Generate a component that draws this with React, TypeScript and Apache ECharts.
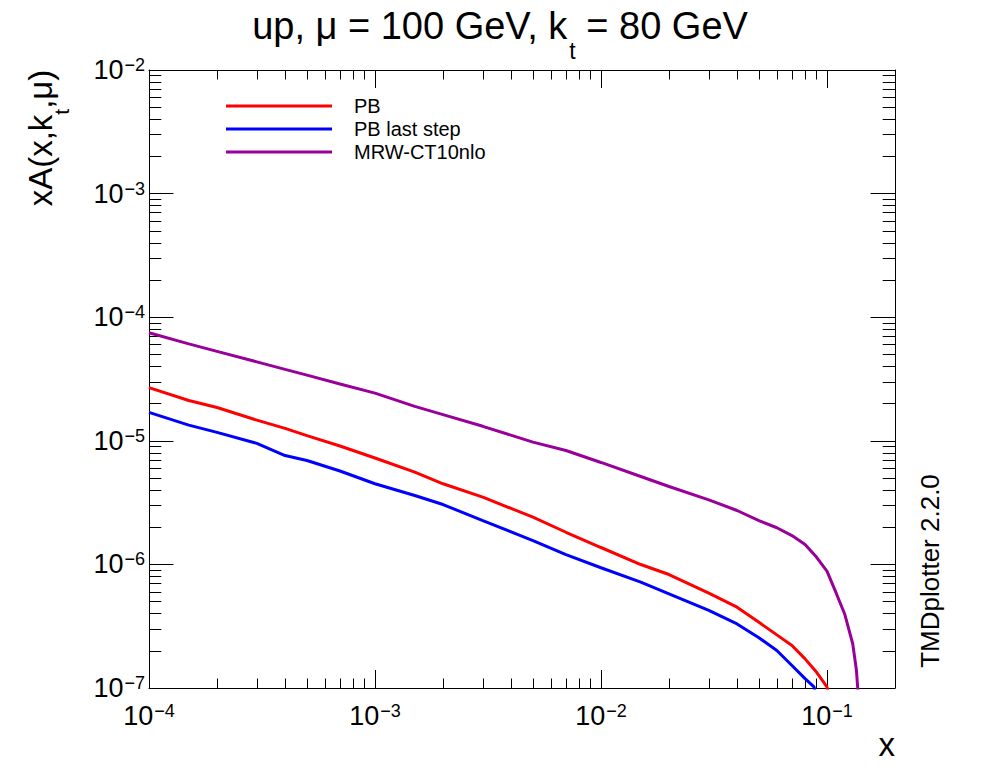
import React, { useEffect, useRef } from "react";
import * as echarts from "echarts";

// ---- data ----
const pbX = [1e-4, 1.5e-4, 2e-4, 3e-4, 4e-4, 5e-4, 7e-4, 1e-3, 1.5e-3, 2e-3, 3e-3, 5e-3, 7e-3, 1e-2, 1.5e-2, 2e-2, 3e-2, 4e-2, 5e-2, 6e-2, 7e-2, 8e-2, 9e-2, 0.1, 0.102];
const pbY = [2.69e-5, 2.12e-5, 1.86e-5, 1.47e-5, 1.26e-5, 1.1e-5, 9.08e-6, 7.26e-6, 5.57e-6, 4.49e-6, 3.5e-6, 2.41e-6, 1.82e-6, 1.37e-6, 9.98e-7, 8.28e-7, 5.85e-7, 4.51e-7, 3.4e-7, 2.69e-7, 2.21e-7, 1.72e-7, 1.34e-7, 1.02e-7, 8.5e-8];

const lastX = [1e-4, 1.5e-4, 2e-4, 3e-4, 4e-4, 5e-4, 7e-4, 1e-3, 1.5e-3, 2e-3, 3e-3, 5e-3, 7e-3, 1e-2, 1.5e-2, 2e-2, 3e-2, 4e-2, 5e-2, 6e-2, 7e-2, 8e-2, 0.0876, 0.09];
const lastY = [1.7e-5, 1.34e-5, 1.17e-5, 9.54e-6, 7.6e-6, 6.93e-6, 5.7e-6, 4.49e-6, 3.61e-6, 3.05e-6, 2.26e-6, 1.56e-6, 1.2e-6, 9.39e-7, 7.18e-7, 5.78e-7, 4.24e-7, 3.3e-7, 2.55e-7, 2.01e-7, 1.52e-7, 1.19e-7, 1.02e-7, 8.5e-8];

const mrwX = [1e-4, 1.5e-4, 2e-4, 3e-4, 4e-4, 5e-4, 7e-4, 1e-3, 1.5e-3, 2e-3, 3e-3, 5e-3, 7e-3, 1e-2, 1.5e-2, 2e-2, 3e-2, 4e-2, 5e-2, 6e-2, 7e-2, 8e-2, 9e-2, 0.1, 0.11, 0.12, 0.13, 0.135, 0.138];
const mrwY = [7.48e-5, 6.08e-5, 5.29e-5, 4.35e-5, 3.78e-5, 3.4e-5, 2.88e-5, 2.43e-5, 1.9e-5, 1.63e-5, 1.31e-5, 9.75e-6, 8.35e-6, 6.68e-6, 5.14e-6, 4.27e-6, 3.33e-6, 2.73e-6, 2.26e-6, 1.98e-6, 1.71e-6, 1.45e-6, 1.14e-6, 8.81e-7, 5.82e-7, 3.93e-7, 2.28e-7, 1.39e-7, 8e-8];

const seriesNames = ["PB", "PB last step", "MRW-CT10nlo"];
const seriesColors = ["#ff0000", "#0000ff", "#990099"];

// ---- axis structure ----
const xMin = 1e-4;
const xMax = 0.2;
const yMin = 1e-7;
const yMax = 1e-2;
const xMajor = [1e-4, 1e-3, 1e-2, 1e-1];
const yMajor = [1e-7, 1e-6, 1e-5, 1e-4, 1e-3, 1e-2];
const tickMultiples = [2, 3, 4, 5, 6, 7, 8, 9];

const titleMain1 = "up, μ = 100 GeV, k";
const titleSub = "t";
const titleMain2 = " = 80 GeV";
const yName1 = "xA(x,k";
const yNameSub = "t";
const yName2 = ",μ)";
const xName = "x";
const stamp = "TMDplotter 2.2.0";

const FONT = '"Liberation Sans", Arial, Helvetica, sans-serif';

function minorOf(decades: number[], max: number) {
  const out: number[] = [];
  decades.forEach((d) =>
    tickMultiples.forEach((m) => {
      const v = m * d;
      if (v <= max * 1.0000001) out.push(v);
    })
  );
  return out;
}

const xMinor = minorOf(xMajor, xMax);
const yMinor = minorOf(yMajor.slice(0, -1), yMax);

function powLabel(v: number) {
  const e = Math.round(Math.log10(v));
  return `{b|10}{s|${e < 0 ? "\u2212" : ""}${Math.abs(e)}}`;
}

const labelRich = {
  b: { fontSize: 27, lineHeight: 28, color: "#000", fontFamily: FONT },
  s: { fontSize: 18, lineHeight: 18, color: "#000", fontFamily: FONT, verticalAlign: "top" as const, padding: [0, 0, 0, 1] },
};

export default function App() {
  const ref = useRef<HTMLDivElement>(null);

  useEffect(() => {
    if (!ref.current) return;
    const chart = echarts.init(ref.current, undefined, { renderer: "svg" });

    const tickLine = { color: "#000", width: 1 };
    const mkX = (position: "top" | "bottom", major: boolean, labels: boolean) => ({
      type: "log" as const,
      logBase: 10,
      min: xMin,
      max: xMax,
      position,
      splitLine: { show: false },
      minorTick: { show: false },
      axisLine: { show: major, onZero: false, lineStyle: tickLine },
      axisTick: {
        show: true,
        inside: true,
        length: major ? 18 : 9.5,
        customValues: major ? xMajor : xMinor,
        lineStyle: tickLine,
      },
      axisLabel: labels
        ? {
            show: true,
            customValues: xMajor,
            formatter: (v: number) => powLabel(v),
            rich: labelRich,
            margin: 14,
            color: "#000",
          }
        : { show: false },
    });
    const mkY = (position: "left" | "right", major: boolean, labels: boolean) => ({
      type: "log" as const,
      logBase: 10,
      min: yMin,
      max: yMax,
      position,
      splitLine: { show: false },
      minorTick: { show: false },
      axisLine: { show: major, onZero: false, lineStyle: tickLine },
      axisTick: {
        show: true,
        inside: true,
        length: major ? 24.5 : 12.3,
        customValues: major ? yMajor : yMinor,
        lineStyle: tickLine,
      },
      axisLabel: labels
        ? {
            show: true,
            customValues: yMajor,
            formatter: (v: number) => powLabel(v),
            rich: labelRich,
            margin: 4,
            color: "#000",
          }
        : { show: false },
    });

    const mk = (xs: number[], ys: number[]) => xs.map((x, i) => [x, ys[i]]);
    const dataSets = [mk(pbX, pbY), mk(lastX, lastY), mk(mrwX, mrwY)];

    chart.setOption({
      animation: false,
      textStyle: { fontFamily: FONT },
      grid: { left: 149, right: 101, top: 70, bottom: 84, outerBoundsMode: "none" },
      xAxis: [mkX("bottom", true, true), mkX("bottom", false, false), mkX("top", true, false), mkX("top", false, false)],
      yAxis: [mkY("left", true, true), mkY("left", false, false), mkY("right", true, false), mkY("right", false, false)],
      legend: {
        orient: "vertical",
        left: 221,
        top: 91,
        itemWidth: 106,
        itemHeight: 3,
        itemGap: 3,
        icon: "rect",
        selectedMode: false,
        textStyle: { fontSize: 20, lineHeight: 20, color: "#000", fontFamily: FONT, padding: [0, 0, 0, 17] },
        data: seriesNames,
      },
      series: seriesNames.map((name, i) => ({
        name,
        type: "line",
        xAxisIndex: 0,
        yAxisIndex: 0,
        data: dataSets[i],
        showSymbol: false,
        symbol: "none",
        clip: true,
        color: seriesColors[i],
        lineStyle: { color: seriesColors[i], width: 3 },
      })),
      graphic: [
        {
          type: "text",
          x: 500,
          y: 26,
          style: {
            text: `{a|${titleMain1}}{s|${titleSub}}{a|${titleMain2}}`,
            align: "center",
            verticalAlign: "middle",
            rich: {
              a: { fontSize: 38, lineHeight: 38, fill: "#000", fontFamily: FONT },
              s: { fontSize: 23, lineHeight: 23, fill: "#000", fontFamily: FONT, padding: [50, 0, 0, 2] },
            },
          },
        },
        {
          type: "text",
          x: 40,
          y: 138,
          rotation: Math.PI / 2,
          style: {
            text: `{a|${yName1}}{s|${yNameSub}}{a|${yName2}}`,
            align: "center",
            verticalAlign: "middle",
            rich: {
              a: { fontSize: 33, lineHeight: 33, fill: "#000", fontFamily: FONT },
              s: { fontSize: 21, lineHeight: 21, fill: "#000", fontFamily: FONT, padding: [42, 0, 0, 0] },
            },
          },
        },
        {
          type: "text",
          x: 895,
          y: 744,
          style: { text: xName, align: "right", verticalAlign: "middle", fontSize: 33, fill: "#000", fontFamily: FONT },
        },
        {
          type: "text",
          x: 930,
          y: 571,
          rotation: Math.PI / 2,
          style: { text: stamp, align: "center", verticalAlign: "middle", fontSize: 26, fill: "#000", fontFamily: FONT },
        },
      ],
    });

    return () => chart.dispose();
  }, []);

  return (
    <div
      ref={ref}
      style={{ position: "absolute", left: 0, top: 0, width: 996, height: 772, background: "#fff" }}
    />
  );
}
